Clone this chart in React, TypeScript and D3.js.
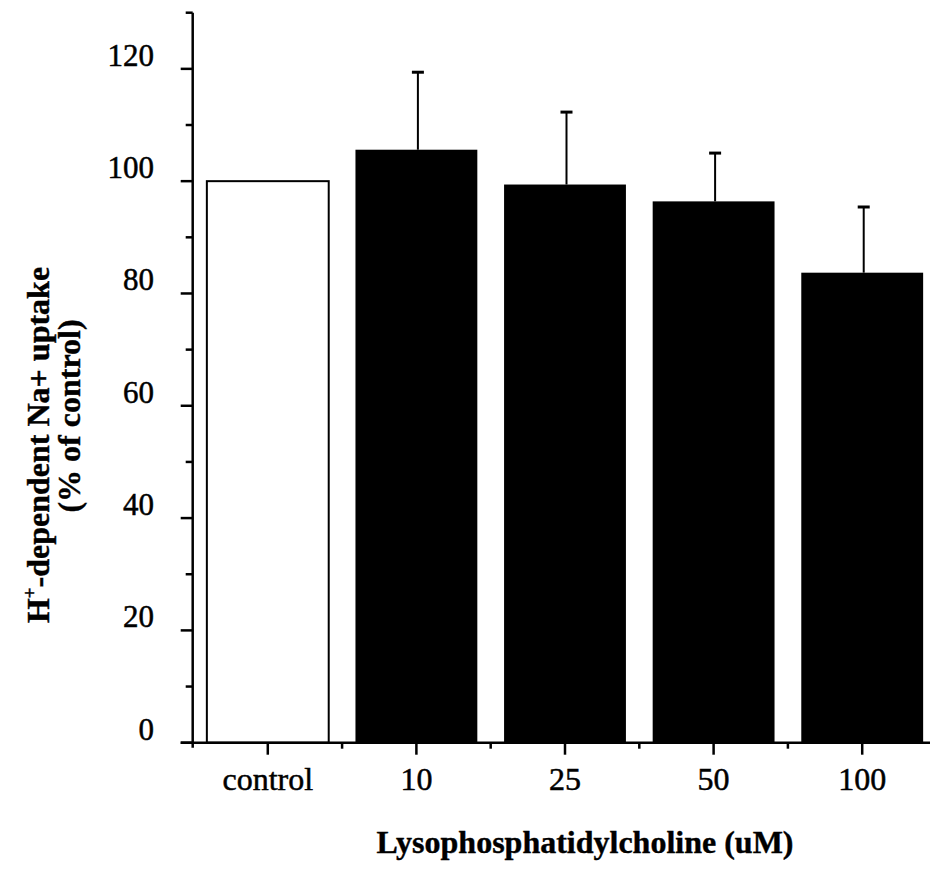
import React from "react";
import * as d3 from "d3";

// Categories and measured uptake (% of control) with SEM
const categories = ["control", "10", "25", "50", "100"];
const uptake = [100, 105.6, 99.4, 96.4, 83.7];
const sem = [0, 13.8, 12.9, 8.6, 11.7];
const yTicks = [0, 20, 40, 60, 80, 100, 120];
const yMinorTicks = [10, 30, 50, 70, 90, 110, 130];

const W = 930;
const H = 875;
const FONT = "'Liberation Serif', 'Times New Roman', Times, serif";

export default function App() {
  const x = d3
    .scaleBand<string>()
    .domain(categories)
    .range([192, 938])
    .paddingInner(0.18)
    .paddingOuter(0.1);
  const y = d3.scaleLinear().domain([0, 130]).range([742.7, 12.7]);

  const axisX = 192.7;
  const baseY = y(0);
  const step = x.step();

  return (
    <svg
      width={W}
      height={H}
      style={{ position: "absolute", left: 0, top: 0, background: "#fff" }}
      fontFamily={FONT}
    >
      {/* bars */}
      {categories.map((c, i) => {
        const x0 = x(c)!;
        const isControl = i === 0;
        return (
          <rect
            key={c}
            x={x0}
            y={y(uptake[i])}
            width={x.bandwidth()}
            height={baseY - y(uptake[i])}
            fill={isControl ? "#fff" : "#000"}
            stroke="#000"
            strokeWidth={isControl ? 2 : 0}
          />
        );
      })}

      {/* error bars (upper only) */}
      {categories.map((c, i) => {
        if (!sem[i]) return null;
        const cx = x(c)! + x.bandwidth() / 2 + 1.5;
        const top = y(uptake[i] + sem[i]);
        return (
          <g key={"e" + c} stroke="#000">
            <line x1={cx} x2={cx} y1={y(uptake[i])} y2={top} strokeWidth={2} />
            <line x1={cx - 6} x2={cx + 6} y1={top} y2={top} strokeWidth={3} />
          </g>
        );
      })}

      {/* y axis */}
      <line x1={axisX} x2={axisX} y1={y(130)} y2={baseY + 5} stroke="#000" strokeWidth={2.5} />
      {yTicks.map((t) => (
        <g key={"yt" + t}>
          <line x1={axisX - 12} x2={axisX} y1={y(t)} y2={y(t)} stroke="#000" strokeWidth={2.5} />
          <text
            x={154}
            y={y(t) - 3}
            textAnchor="end"
            fontSize={31}
            stroke="#000"
            strokeWidth={0.5}
          >
            {t}
          </text>
        </g>
      ))}
      {yMinorTicks.map((t) => (
        <line key={"ym" + t} x1={axisX - 7} x2={axisX} y1={y(t)} y2={y(t)} stroke="#000" strokeWidth={2.5} />
      ))}

      {/* x axis */}
      <line x1={axisX - 12} x2={W} y1={baseY} y2={baseY} stroke="#000" strokeWidth={2.5} />
      {categories.map((c) => {
        const cx = x(c)! + x.bandwidth() / 2;
        return (
          <g key={"xt" + c}>
            <line x1={cx} x2={cx} y1={baseY} y2={baseY + 12} stroke="#000" strokeWidth={2.5} />
            <text
              x={cx}
              y={790}
              textAnchor="middle"
              fontSize={32}
              stroke="#000"
              strokeWidth={0.5}
            >
              {c}
            </text>
          </g>
        );
      })}
      {categories.slice(1).map((c) => {
        const bx = x(c)! + x.bandwidth() / 2 - step / 2;
        return (
          <line key={"xb" + c} x1={bx} x2={bx} y1={baseY} y2={baseY + 6} stroke="#000" strokeWidth={2.5} />
        );
      })}

      {/* axis titles */}
      <text
        x={585}
        y={853}
        textAnchor="middle"
        fontSize={32}
        fontWeight="bold"
        stroke="#000"
        strokeWidth={0.4}
      >
        Lysophosphatidylcholine (uM)
      </text>
      <text
        transform="translate(49,445) rotate(-90)"
        textAnchor="middle"
        fontSize={32}
        fontWeight="bold"
        stroke="#000"
        strokeWidth={0.4}
      >
        H<tspan fontSize={19} dy={-13}>+</tspan>
        <tspan dy={13}>-dependent Na+ uptake</tspan>
      </text>
      <text
        transform="translate(80,416) rotate(-90)"
        textAnchor="middle"
        fontSize={32}
        fontWeight="bold"
        stroke="#000"
        strokeWidth={0.4}
      >
        (% of control)
      </text>
    </svg>
  );
}
